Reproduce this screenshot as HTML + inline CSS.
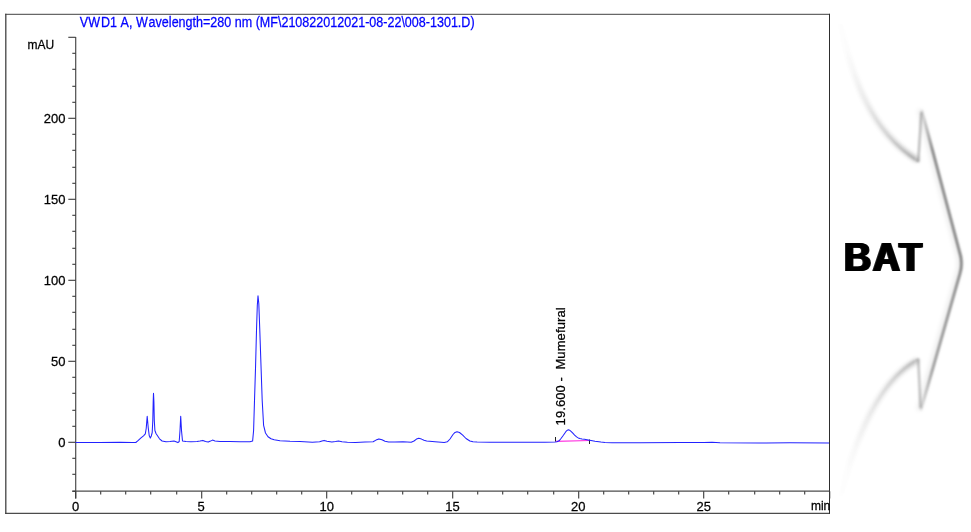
<!DOCTYPE html>
<html><head><meta charset="utf-8"><title>Chromatogram</title>
<style>
html,body{margin:0;padding:0;background:#fff;}
body{width:971px;height:532px;overflow:hidden;position:relative;font-family:"Liberation Sans",sans-serif;}
svg{position:absolute;left:0;top:0;display:block;}
text{font-family:"Liberation Sans",sans-serif;}
.lbl{font-size:13px;fill:#000;stroke:#000;stroke-width:0.25px;font-kerning:none;}
.unit{font-size:12px;fill:#000;stroke:#000;stroke-width:0.25px;font-kerning:none;}
.ttl{font-size:13px;fill:#0000ff;stroke:#0000ff;stroke-width:0.25px;font-kerning:none;}
.bat{font-size:40.5px;font-weight:bold;fill:#000;letter-spacing:1.9px;font-kerning:normal;filter:drop-shadow(1.9px 0 0 #000) drop-shadow(-1.9px 0 0 #000);}
</style></head>
<body>
<svg width="971" height="532" viewBox="0 0 971 532">
<defs>
<filter id="blur" filterUnits="userSpaceOnUse" x="820" y="0" width="151" height="532"><feGaussianBlur stdDeviation="2"/></filter>
<filter id="blur4" filterUnits="userSpaceOnUse" x="820" y="0" width="151" height="532"><feGaussianBlur stdDeviation="1.0"/></filter>
<filter id="blur3" filterUnits="userSpaceOnUse" x="820" y="0" width="151" height="532"><feGaussianBlur stdDeviation="1.9"/></filter>
<filter id="blur2" filterUnits="userSpaceOnUse" x="820" y="0" width="151" height="532"><feGaussianBlur stdDeviation="1.2"/></filter>
<linearGradient id="gTop" gradientUnits="userSpaceOnUse" x1="839" y1="16" x2="918" y2="160">
<stop offset="0" stop-color="#000" stop-opacity="0"/><stop offset="0.2" stop-color="#000" stop-opacity="0.015"/><stop offset="0.33" stop-color="#000" stop-opacity="0.04"/><stop offset="0.5" stop-color="#000" stop-opacity="0.09"/><stop offset="0.72" stop-color="#000" stop-opacity="0.15"/><stop offset="0.87" stop-color="#000" stop-opacity="0.22"/><stop offset="1" stop-color="#000" stop-opacity="0.32"/></linearGradient>
<linearGradient id="gBot" gradientUnits="userSpaceOnUse" x1="840" y1="504" x2="918" y2="360">
<stop offset="0" stop-color="#000" stop-opacity="0.0"/><stop offset="0.2" stop-color="#000" stop-opacity="0.012"/><stop offset="0.33" stop-color="#000" stop-opacity="0.033"/><stop offset="0.5" stop-color="#000" stop-opacity="0.073"/><stop offset="0.72" stop-color="#000" stop-opacity="0.121"/><stop offset="0.87" stop-color="#000" stop-opacity="0.178"/><stop offset="1" stop-color="#000" stop-opacity="0.259"/></linearGradient>
<linearGradient id="gTopH" gradientUnits="userSpaceOnUse" x1="839" y1="16" x2="918" y2="160">
<stop offset="0" stop-color="#000" stop-opacity="0"/><stop offset="0.4" stop-color="#000" stop-opacity="0.015"/><stop offset="1" stop-color="#000" stop-opacity="0.07"/></linearGradient>
<linearGradient id="gBotH" gradientUnits="userSpaceOnUse" x1="840" y1="504" x2="918" y2="360">
<stop offset="0" stop-color="#000" stop-opacity="0"/><stop offset="0.4" stop-color="#000" stop-opacity="0.015"/><stop offset="1" stop-color="#000" stop-opacity="0.07"/></linearGradient>
<linearGradient id="gTopC" gradientUnits="userSpaceOnUse" x1="839" y1="16" x2="918" y2="160">
<stop offset="0.55" stop-color="#000" stop-opacity="0"/><stop offset="0.8" stop-color="#000" stop-opacity="0.07"/><stop offset="1" stop-color="#000" stop-opacity="0.17"/></linearGradient>
<linearGradient id="gBotC" gradientUnits="userSpaceOnUse" x1="840" y1="504" x2="918" y2="360">
<stop offset="0.55" stop-color="#000" stop-opacity="0"/><stop offset="0.8" stop-color="#000" stop-opacity="0.06"/><stop offset="1" stop-color="#000" stop-opacity="0.14"/></linearGradient>
<linearGradient id="gEdge" gradientUnits="userSpaceOnUse" x1="0" y1="108" x2="0" y2="413">
<stop offset="0" stop-color="#000" stop-opacity="0.04"/><stop offset="0.14" stop-color="#000" stop-opacity="0.42"/><stop offset="0.36" stop-color="#000" stop-opacity="0.42"/><stop offset="0.5" stop-color="#000" stop-opacity="0.44"/><stop offset="0.62" stop-color="#000" stop-opacity="0.38"/><stop offset="0.86" stop-color="#000" stop-opacity="0.33"/><stop offset="1" stop-color="#000" stop-opacity="0.05"/></linearGradient>
</defs>
<rect x="0" y="0" width="971" height="532" fill="#fff"/>

<!-- arrow shadow -->
<g id="arrow" fill="none" stroke-linecap="butt" stroke-linejoin="miter">
<g filter="url(#blur)" stroke-width="5">
<path stroke="url(#gTopH)" transform="translate(-1.6,-1.6)" d="M839.6,16.4 C851.1,75.1 870,131.4 918,160.5"/>
<path stroke="url(#gBotH)" transform="translate(-1.6,1.6)" d="M840.5,503 C849.5,456.8 874.1,382.1 918,360"/>
<path stroke="#000" stroke-opacity="0.07" transform="translate(-2,0)" d="M921.6,109.4 L959.3,251 Q963.2,262.5 960,273.5 L920.8,410.5"/>
</g>
<g filter="url(#blur3)" stroke-width="3.4">
<path stroke="url(#gTop)" d="M839.6,16.4 C851.1,75.1 870,131.4 918,160.5"/>
<path stroke="url(#gBot)" d="M840.5,503 C849.5,456.8 874.1,382.1 918,360"/>
</g>
<g filter="url(#blur2)" stroke-width="2.4">
<path stroke="#000" stroke-opacity="0.27" d="M918.2,162 L921.4,112"/>
<path stroke="#000" stroke-opacity="0.25" d="M918.2,358.6 L920.6,408"/>
<path stroke="url(#gEdge)" d="M921.6,109.4 L959.3,251 Q963.2,262.5 960,273.5 L920.8,410.5"/>
</g>
<g filter="url(#blur4)" stroke-width="1.7">
<path stroke="url(#gTopC)" d="M839.6,16.4 C851.1,75.1 870,131.4 918.3,161.6"/>
<path stroke="url(#gBotC)" d="M840.5,503 C849.5,456.8 874.1,382.1 918.3,358.9"/>
<path stroke="url(#gEdge)" stroke-opacity="0.4" d="M921.6,109.4 L959.3,251 Q963.2,262.5 960,273.5 L920.8,410.5"/>
</g>
</g>

<!-- frame -->
<g id="frame" fill="none" stroke-linecap="square">
<line x1="5.8" y1="14.3" x2="829.3" y2="14.3" stroke="#676767" stroke-width="1.3"/>
<line x1="5.8" y1="513.35" x2="829.3" y2="513.35" stroke="#4c4c4c" stroke-width="1.35"/>
<line x1="5.8" y1="14.3" x2="5.8" y2="513.35" stroke="#444" stroke-width="1.3"/>
<line x1="829.5" y1="14.3" x2="829.5" y2="513.35" stroke="#2e2e2e" stroke-width="1"/>
</g>

<!-- axes -->
<g id="axes" stroke="#4c4c4c" stroke-width="1.2" fill="none">
<line x1="75.7" y1="37" x2="75.7" y2="498.5"/>
<line x1="72.3" y1="491.2" x2="829.5" y2="491.2"/>
</g>
<g id="yticks" stroke="#3a3a3a" stroke-width="1.1"><line x1="72.3" y1="491.3" x2="75.7" y2="491.3"/><line x1="72.3" y1="474.3" x2="75.7" y2="474.3"/><line x1="72.3" y1="458.3" x2="75.7" y2="458.3"/><line x1="68.3" y1="442.3" x2="75.7" y2="442.3"/><line x1="72.3" y1="426.3" x2="75.7" y2="426.3"/><line x1="72.3" y1="410.3" x2="75.7" y2="410.3"/><line x1="72.3" y1="393.3" x2="75.7" y2="393.3"/><line x1="72.3" y1="377.3" x2="75.7" y2="377.3"/><line x1="68.3" y1="361.3" x2="75.7" y2="361.3"/><line x1="72.3" y1="345.3" x2="75.7" y2="345.3"/><line x1="72.3" y1="329.3" x2="75.7" y2="329.3"/><line x1="72.3" y1="312.3" x2="75.7" y2="312.3"/><line x1="72.3" y1="296.3" x2="75.7" y2="296.3"/><line x1="68.3" y1="280.3" x2="75.7" y2="280.3"/><line x1="72.3" y1="264.3" x2="75.7" y2="264.3"/><line x1="72.3" y1="248.3" x2="75.7" y2="248.3"/><line x1="72.3" y1="231.3" x2="75.7" y2="231.3"/><line x1="72.3" y1="215.3" x2="75.7" y2="215.3"/><line x1="68.3" y1="199.3" x2="75.7" y2="199.3"/><line x1="72.3" y1="183.3" x2="75.7" y2="183.3"/><line x1="72.3" y1="167.3" x2="75.7" y2="167.3"/><line x1="72.3" y1="150.3" x2="75.7" y2="150.3"/><line x1="72.3" y1="134.3" x2="75.7" y2="134.3"/><line x1="68.3" y1="118.3" x2="75.7" y2="118.3"/><line x1="72.3" y1="102.3" x2="75.7" y2="102.3"/><line x1="72.3" y1="86.3" x2="75.7" y2="86.3"/><line x1="72.3" y1="69.3" x2="75.7" y2="69.3"/><line x1="72.3" y1="53.3" x2="75.7" y2="53.3"/><line x1="68.3" y1="37.3" x2="75.7" y2="37.3"/></g>
<g id="xticks" stroke="#3a3a3a" stroke-width="1.1"><line x1="75.7" y1="491.2" x2="75.7" y2="498.5"/><line x1="100.7" y1="491.2" x2="100.7" y2="494.5"/><line x1="125.7" y1="491.2" x2="125.7" y2="494.5"/><line x1="150.7" y1="491.2" x2="150.7" y2="494.5"/><line x1="176.7" y1="491.2" x2="176.7" y2="494.5"/><line x1="201.7" y1="491.2" x2="201.7" y2="498.5"/><line x1="226.7" y1="491.2" x2="226.7" y2="494.5"/><line x1="251.7" y1="491.2" x2="251.7" y2="494.5"/><line x1="276.7" y1="491.2" x2="276.7" y2="494.5"/><line x1="301.7" y1="491.2" x2="301.7" y2="494.5"/><line x1="326.7" y1="491.2" x2="326.7" y2="498.5"/><line x1="351.7" y1="491.2" x2="351.7" y2="494.5"/><line x1="377.7" y1="491.2" x2="377.7" y2="494.5"/><line x1="402.7" y1="491.2" x2="402.7" y2="494.5"/><line x1="427.7" y1="491.2" x2="427.7" y2="494.5"/><line x1="452.7" y1="491.2" x2="452.7" y2="498.5"/><line x1="477.7" y1="491.2" x2="477.7" y2="494.5"/><line x1="502.7" y1="491.2" x2="502.7" y2="494.5"/><line x1="527.7" y1="491.2" x2="527.7" y2="494.5"/><line x1="553.7" y1="491.2" x2="553.7" y2="494.5"/><line x1="578.7" y1="491.2" x2="578.7" y2="498.5"/><line x1="603.7" y1="491.2" x2="603.7" y2="494.5"/><line x1="628.7" y1="491.2" x2="628.7" y2="494.5"/><line x1="653.7" y1="491.2" x2="653.7" y2="494.5"/><line x1="678.7" y1="491.2" x2="678.7" y2="494.5"/><line x1="703.7" y1="491.2" x2="703.7" y2="498.5"/><line x1="728.7" y1="491.2" x2="728.7" y2="494.5"/><line x1="754.7" y1="491.2" x2="754.7" y2="494.5"/><line x1="779.7" y1="491.2" x2="779.7" y2="494.5"/><line x1="804.7" y1="491.2" x2="804.7" y2="494.5"/><line x1="829.7" y1="491.2" x2="829.7" y2="498.5"/></g>

<!-- labels -->
<text class="ttl" transform="translate(79.8,26.6) scale(0.965,1.062)">VW<tspan dx="1.1">D1 A, W</tspan><tspan dx="0.9">avelength=280 nm (MF\210822012021-08-22\008-1301.D)</tspan></text>
<text class="unit" transform="translate(27.5,49) scale(1,1.06)">mAU</text>
<text class="lbl" transform="translate(65.5,123) scale(1,1.05)" text-anchor="end">200</text>
<text class="lbl" transform="translate(65.5,204) scale(1,1.05)" text-anchor="end">150</text>
<text class="lbl" transform="translate(65.5,285) scale(1,1.05)" text-anchor="end">100</text>
<text class="lbl" transform="translate(65.5,366) scale(1,1.05)" text-anchor="end">50</text>
<text class="lbl" transform="translate(65.5,447) scale(1,1.05)" text-anchor="end">0</text>
<text class="lbl" transform="translate(75.5,511.2) scale(1,1.05)" text-anchor="middle">0</text>
<text class="lbl" transform="translate(201.2,511.2) scale(1,1.05)" text-anchor="middle">5</text>
<text class="lbl" transform="translate(326.8,511.2) scale(1,1.05)" text-anchor="middle">10</text>
<text class="lbl" transform="translate(452.5,511.2) scale(1,1.05)" text-anchor="middle">15</text>
<text class="lbl" transform="translate(578.2,511.2) scale(1,1.05)" text-anchor="middle">20</text>
<text class="lbl" transform="translate(703.8,511.2) scale(1,1.05)" text-anchor="middle">25</text>
<text class="unit" transform="translate(830.3,510.2) scale(1,1.06)" text-anchor="end">min</text>

<!-- peak label -->
<text class="lbl" style="white-space:pre" xml:space="preserve" transform="translate(565.2,425.4) rotate(-90) scale(1,1.05)" letter-spacing="0.1">19.600 -  Mumefural</text>

<!-- integration marks -->
<line x1="555.5" y1="441.4" x2="589.5" y2="440.5" stroke="#ff30e0" stroke-width="1.2"/>
<line x1="555.5" y1="437" x2="555.5" y2="441.5" stroke="#222" stroke-width="1"/>
<line x1="589.5" y1="439.5" x2="589.5" y2="444" stroke="#222" stroke-width="1"/>

<!-- trace -->
<polyline id="trace" fill="none" stroke="#2222ff" stroke-width="1.05" transform="translate(0,0.5)" stroke-linejoin="round" points="75.5,442.0 100.0,442.0 120.0,441.8 132.0,442.0 135.8,442.0 138.0,440.2 141.0,437.4 143.5,435.3 145.3,433.3 146.2,428.0 147.2,415.8 148.2,427.0 149.2,435.0 150.3,437.6 151.3,435.5 152.2,432.0 152.8,420.0 153.2,401.0 153.5,392.8 153.9,401.0 154.3,420.0 154.9,430.0 156.0,433.0 157.5,435.3 159.5,438.3 162.1,440.5 166.0,441.3 170.0,441.0 174.0,440.5 176.0,441.3 177.9,442.1 179.2,441.0 180.0,430.0 180.7,415.8 181.5,430.0 182.5,440.5 186.0,441.0 191.0,441.3 197.0,441.0 200.0,440.6 202.9,439.9 205.5,441.0 208.2,441.6 210.5,440.6 212.5,439.6 215.0,440.5 220.0,441.0 230.0,441.0 240.0,441.3 250.0,441.2 252.6,440.6 253.6,430.0 254.5,400.0 255.5,368.0 256.5,330.0 257.3,305.0 258.0,295.2 258.8,303.0 259.8,330.0 261.1,368.0 262.2,400.0 263.6,424.8 265.5,432.5 268.0,436.2 271.0,438.2 274.2,439.3 280.0,440.2 290.0,440.7 300.0,440.9 312.4,441.7 319.6,441.3 322.0,440.4 324.1,439.9 327.0,440.7 331.9,441.5 335.5,441.0 338.5,440.5 342.0,441.2 347.4,441.7 355.6,441.9 365.0,441.6 373.1,441.3 376.0,439.6 378.9,438.4 382.0,439.3 385.0,440.7 388.6,441.5 395.0,441.5 403.0,441.3 411.2,441.7 414.0,440.5 416.5,438.6 418.8,437.8 421.5,438.6 424.0,439.8 426.7,440.5 435.0,441.2 444.2,441.9 447.3,441.3 450.0,438.5 453.0,434.0 455.0,431.9 457.0,431.2 459.5,432.0 462.7,434.7 466.0,438.0 469.9,440.5 473.0,441.2 477.1,441.5 490.0,441.7 500.0,441.7 520.0,441.8 545.0,441.8 555.0,441.6 557.0,441.3 559.1,440.3 561.0,438.0 563.4,434.7 565.8,431.2 567.4,429.7 568.4,429.3 569.6,429.7 571.0,430.8 572.6,432.4 574.6,434.6 576.6,436.4 578.2,437.4 579.9,438.0 582.0,438.4 584.5,438.7 587.0,439.2 589.7,439.7 595.0,440.8 600.9,441.6 605.0,441.9 612.0,442.2 640.0,442.2 680.0,442.0 704.0,441.9 712.0,441.8 720.0,442.3 760.0,442.5 790.0,442.3 829.0,442.4"/>

<!-- BAT -->
<text class="bat" transform="translate(844.4,270.8) scale(0.93,1)" x="0" y="0">BAT</text>
</svg>
</body></html>
